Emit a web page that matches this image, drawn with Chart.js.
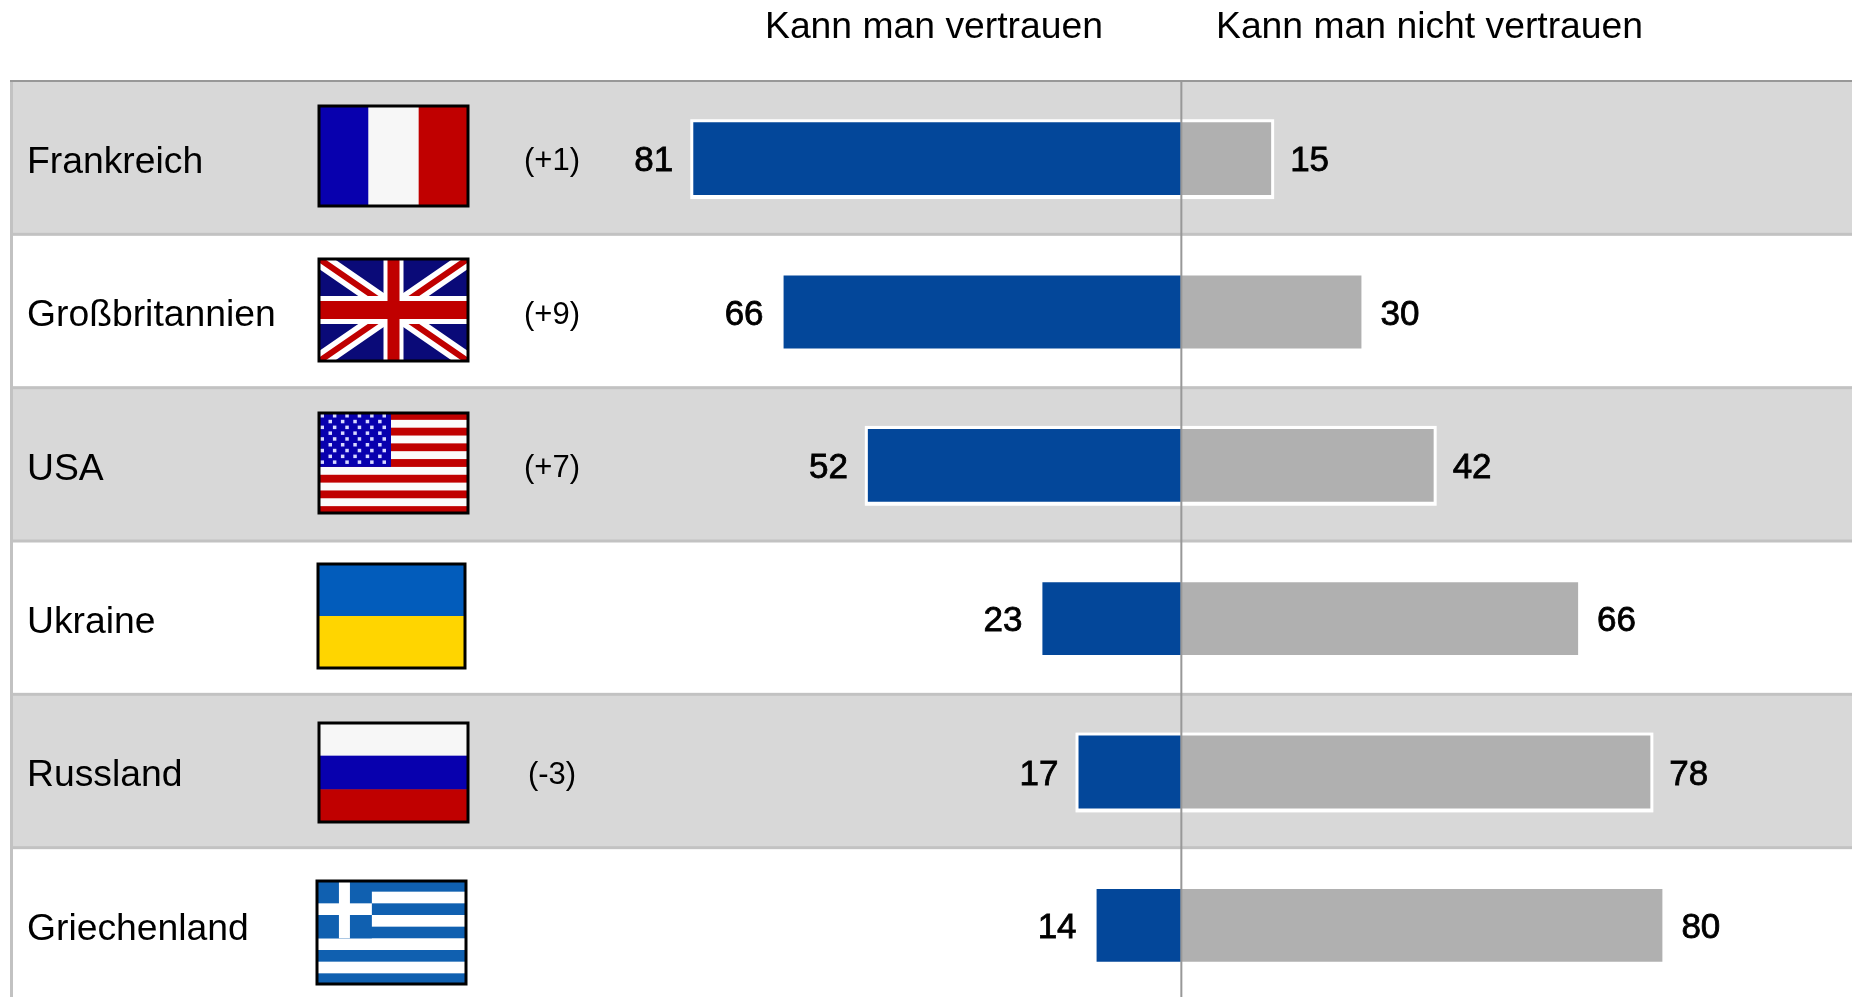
<!DOCTYPE html>
<html lang="de">
<head>
<meta charset="utf-8">
<title>Kann man vertrauen</title>
<style>
  html, body { margin: 0; background: #fff; overflow: hidden; }
  #wrap { width: 1852px; height: 997px; overflow: hidden; }
  canvas { display: block; }
</style>
<script src="https://cdn.jsdelivr.net/npm/chart.js@4/dist/chart.umd.min.js"></script>
</head>
<body>
<div id="wrap"><canvas id="chart" width="1852" height="1002"></canvas></div>
<script>
/* ----------  DATA  ---------- */
const countries    = ['Frankreich', 'Großbritannien', 'USA', 'Ukraine', 'Russland', 'Griechenland'];
const trustValues  = [81, 66, 52, 23, 17, 14];
const distrustValues = [15, 30, 42, 66, 78, 80];
const changeLabels = ['(+1)', '(+9)', '(+7)', '', '(-3)', ''];
const headerLeft   = 'Kann man vertrauen';
const headerRight  = 'Kann man nicht vertrauen';

/* ----------  STYLE  ---------- */
const FONT = '"Liberation Sans", Arial, sans-serif';
const BLUE = '#03479a', GREY = '#b0b0b0', BAND = '#d8d8d8', RULE = '#c2c2c2', AXIS = '#989898';
const FLAG_RED = '#c00000', FLAG_WHITE = '#f7f7f7', FLAG_BLUE = '#0800ae';
const ROW_SHIFT = 1; // bars sit a pixel below the middle of their row

// flag boxes [x, y, w, h]
const flagBoxes = [
  [318, 105, 151, 102],
  [318, 258, 151, 104],
  [318, 412, 151, 102],
  [317, 563, 149, 106],
  [318, 722, 151, 101],
  [316, 880, 151, 105]
];

/* ----------  FLAGS  ---------- */
function stripes(ctx, x, y, w, h, cols) {
  cols.forEach((c, i) => {
    ctx.fillStyle = c;
    ctx.fillRect(x, y + h * i / cols.length, w, h / cols.length + 0.5);
  });
}

const flagPainters = [
  // Frankreich
  (ctx, x, y, w, h) => {
    [FLAG_BLUE, FLAG_WHITE, FLAG_RED].forEach((c, i) => {
      ctx.fillStyle = c;
      ctx.fillRect(x + w * i / 3, y, w / 3 + 0.5, h);
    });
  },
  // Großbritannien
  (ctx, x, y, w, h) => {
    ctx.fillStyle = '#0a0a78';
    ctx.fillRect(x, y, w, h);
    const diag = (col, lw) => {
      ctx.strokeStyle = col;
      ctx.lineWidth = lw;
      ctx.beginPath();
      ctx.moveTo(x, y); ctx.lineTo(x + w, y + h);
      ctx.moveTo(x + w, y); ctx.lineTo(x, y + h);
      ctx.stroke();
    };
    diag('#fff', 17);
    diag(FLAG_RED, 6);
    ctx.fillStyle = '#fff';
    ctx.fillRect(x + w / 2 - 10, y, 20, h);
    ctx.fillRect(x, y + h / 2 - 14, w, 28);
    ctx.fillStyle = FLAG_RED;
    ctx.fillRect(x + w / 2 - 6, y, 12, h);
    ctx.fillRect(x, y + h / 2 - 9, w, 18);
  },
  // USA
  (ctx, x, y, w, h) => {
    const cols = [];
    for (let i = 0; i < 13; i++) cols.push(i % 2 ? '#fbfbfb' : FLAG_RED);
    stripes(ctx, x, y, w, h, cols);
    const cw = 73, ch = h * 7 / 13;
    ctx.fillStyle = FLAG_BLUE;
    ctx.fillRect(x, y, cw, ch);
    ctx.fillStyle = '#d8d8ff';
    for (let r = 0; r < 9; r++) {
      const n = r % 2 ? 5 : 6;
      for (let c = 0; c < n; c++) {
        const sx = x + (r % 2 ? 12 : 4) + c * 12.4;
        ctx.fillRect(sx - 1.5, y + 3.5 + r * 5.8 - 1.5, 3.5, 3.5);
      }
    }
  },
  // Ukraine
  (ctx, x, y, w, h) => stripes(ctx, x, y, w, h, ['#025cbb', '#ffd500']),
  // Russland
  (ctx, x, y, w, h) => stripes(ctx, x, y, w, h, [FLAG_WHITE, FLAG_BLUE, FLAG_RED]),
  // Griechenland
  (ctx, x, y, w, h) => {
    const cols = [];
    for (let i = 0; i < 9; i++) cols.push(i % 2 ? '#fff' : '#1060b0');
    stripes(ctx, x, y, w, h, cols);
    const cw = w * 0.37, ch = h * 5 / 9;
    ctx.fillStyle = '#1060b0';
    ctx.fillRect(x, y, cw, ch);
    ctx.fillStyle = '#fff';
    ctx.fillRect(x + cw / 2 - 5, y, 11, ch);
    ctx.fillRect(x, y + h * 2 / 9, cw, h / 9);
  }
];

/* ----------  PLUGINS  ---------- */
const rowBands = {
  id: 'rowBands',
  beforeDraw(chart) {
    const { ctx, chartArea: a, scales: { y } } = chart;
    const step = (a.bottom - a.top) / countries.length;
    ctx.save();
    countries.forEach((_, i) => {
      const top = y.getPixelForValue(i) - step / 2 - ROW_SHIFT;
      if (i % 2 === 0) {
        ctx.fillStyle = BAND;
        ctx.fillRect(a.left, top, a.right - a.left, step);
      }
      ctx.fillStyle = RULE;
      if (i > 0) ctx.fillRect(a.left, top - 1.5, a.right - a.left, 3);
    });
    ctx.fillStyle = RULE;
    ctx.fillRect(a.left - 1, a.top - ROW_SHIFT, 3, a.bottom - a.top);
    ctx.fillStyle = AXIS;
    ctx.fillRect(a.left - 1, a.top - ROW_SHIFT - 1, a.right - a.left + 1, 2);
    ctx.restore();
  },
  // white frame around the bars of the grey rows
  beforeDatasetsDraw(chart) {
    const { ctx } = chart;
    const left = chart.getDatasetMeta(0).data;
    const right = chart.getDatasetMeta(1).data;
    ctx.save();
    ctx.fillStyle = '#fff';
    left.forEach((bar, i) => {
      if (i % 2) return;
      const half = bar.height / 2;
      ctx.fillRect(bar.x - 3, bar.y - half - 3, right[i].x - bar.x + 6, bar.height + 7);
    });
    ctx.restore();
  },
  afterDatasetsDraw(chart) {
    const { ctx, chartArea: a, scales: { x } } = chart;
    ctx.save();
    ctx.fillStyle = AXIS;
    ctx.fillRect(x.getPixelForValue(0) - 0.5, a.top - ROW_SHIFT, 2, a.bottom - a.top);
    ctx.restore();
  }
};

const annotations = {
  id: 'annotations',
  afterDraw(chart) {
    const { ctx, scales: { y } } = chart;
    const left = chart.getDatasetMeta(0).data;
    const right = chart.getDatasetMeta(1).data;
    ctx.save();
    ctx.textBaseline = 'middle';
    ctx.fillStyle = '#000';

    // column heads
    ctx.font = '37.3px ' + FONT;
    ctx.textAlign = 'left';
    ctx.fillText(headerLeft, 765, 28);
    ctx.fillText(headerRight, 1216, 28);

    // row names, taken from the category scale
    countries.forEach((_, i) => {
      ctx.fillText(y.getLabelForValue(i), 27, y.getPixelForValue(i) + 4);
    });

    // values next to the bars
    ctx.font = '35px ' + FONT;
    ctx.strokeStyle = '#000';
    ctx.lineWidth = 0.8;
    countries.forEach((_, i) => {
      ctx.textAlign = 'right';
      ctx.fillText(String(trustValues[i]), left[i].x - 20, left[i].y + 3);
      ctx.strokeText(String(trustValues[i]), left[i].x - 20, left[i].y + 3);
      ctx.textAlign = 'left';
      ctx.fillText(String(distrustValues[i]), right[i].x + 19, right[i].y + 3);
      ctx.strokeText(String(distrustValues[i]), right[i].x + 19, right[i].y + 3);
    });

    // change against last time
    ctx.font = '31px ' + FONT;
    ctx.textAlign = 'center';
    changeLabels.forEach((t, i) => {
      if (t) ctx.fillText(t, 552, y.getPixelForValue(i) + 3);
    });

    // flags
    flagBoxes.forEach(([fx, fy, fw, fh], i) => {
      ctx.save();
      ctx.beginPath();
      ctx.rect(fx, fy, fw, fh);
      ctx.clip();
      flagPainters[i](ctx, fx, fy, fw, fh);
      ctx.restore();
      ctx.strokeStyle = '#000';
      ctx.lineWidth = 3;
      ctx.strokeRect(fx + 1, fy + 1, fw - 2, fh - 2);
    });
    ctx.restore();
  }
};

/* ----------  CHART  ---------- */
new Chart(document.getElementById('chart'), {
  type: 'bar',
  data: {
    labels: countries,
    datasets: [
      { label: headerLeft,  data: trustValues.map(v => -v), backgroundColor: BLUE },
      { label: headerRight, data: distrustValues,           backgroundColor: GREY }
    ]
  },
  options: {
    indexAxis: 'y',
    responsive: false,
    animation: false,
    events: [],
    layout: { padding: { left: 11, top: 82, right: 0, bottom: 0 } },
    categoryPercentage: 1,
    barPercentage: 0.475,
    scales: {
      x: { display: false, stacked: true, min: -194.35, max: 111.5 },
      y: {
        display: true,
        stacked: true,
        position: 'left',
        border: { display: false },
        grid: { display: false },
        ticks: { display: false },
        // the names sit inside the plot, so the axis must not take any room
        afterFit: s => { s.width = 0; s.paddingTop = 0; s.paddingBottom = 0; }
      }
    },
    plugins: { legend: { display: false }, tooltip: { enabled: false } }
  },
  plugins: [rowBands, annotations]
});
</script>
</body>
</html>
